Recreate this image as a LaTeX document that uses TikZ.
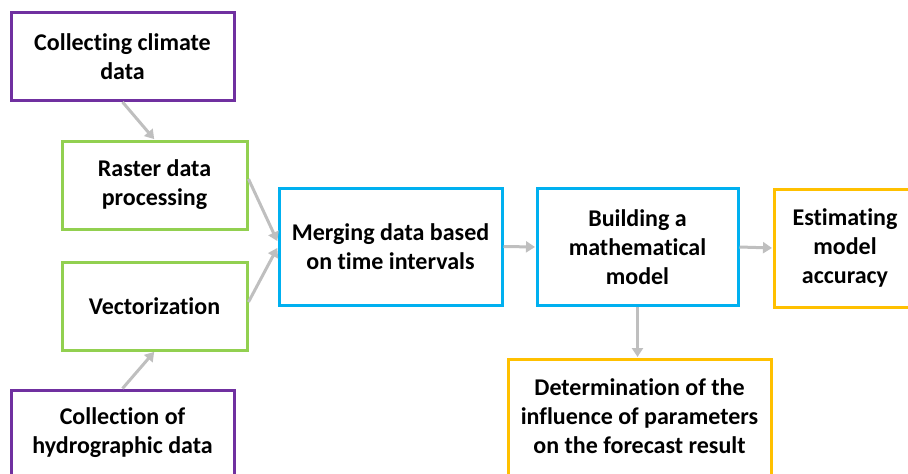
\documentclass[tikz,border=0pt]{standalone}
\usepackage{fontspec}
\setmainfont{Carlito}[RawFeature=-liga]
\usetikzlibrary{arrows.meta,calc}
\definecolor{boxpurple}{HTML}{7030A0}
\definecolor{boxgreen}{HTML}{92D050}
\definecolor{boxblue}{HTML}{00B0F0}
\definecolor{boxyellow}{HTML}{FFC000}
\definecolor{linkgray}{HTML}{BFBFBF}
\tikzset{
  steptext/.style={align=center, inner sep=0pt,
    font=\fontsize{24}{29}\selectfont\bfseries, text=black},
  stepbox/.style={steptext, draw, line width=3pt, rectangle},
  link/.style={draw=linkgray, line width=3pt,
    -{Triangle[length=9pt,width=11pt]}, shorten >=0.5pt}
}
\begin{document}
\begin{tikzpicture}[x=1pt,y=-1pt]
  \useasboundingbox (0,0) rectangle (908,474);
  \clip (0,0) rectangle (908,474);
  % input stage
  \node[stepbox, draw=boxpurple, minimum width=223pt, minimum height=88pt]
    (climate) at (122.5,56.5) {Collecting climate\\data};
  \node[stepbox, draw=boxgreen, minimum width=185pt, minimum height=88pt]
    (raster) at (154.5,185) {Raster data\\processing};
  \node[stepbox, draw=boxgreen, minimum width=185pt, minimum height=88pt]
    (vector) at (154.5,306) {Vectorization};
  \node[stepbox, draw=boxpurple, minimum width=223pt, minimum height=100pt]
    (hydro) at (122.5,440) {};
  \node[steptext] (hydrotext) at (122.5,433) {Collection of\\hydrographic data};
  % processing stage
  \node[stepbox, draw=boxblue, minimum width=223pt, minimum height=117pt]
    (merge) at (390.5,246.5) {Merging data based\\on time intervals};
  \node[stepbox, draw=boxblue, minimum width=201pt, minimum height=117pt]
    (model) at (637.5,247) {Building a\\mathematical\\model};
  % results
  \node[stepbox, draw=boxyellow, minimum width=142pt, minimum height=118pt]
    (accuracy) at (845,248) {Estimating\\model\\accuracy};
  \node[stepbox, draw=boxyellow, minimum width=263pt, minimum height=130pt]
    (influence) at (639.5,424) {};
  \node[steptext] (influencetext) at (639.5,416)
    {Determination of the\\influence of parameters\\on the forecast result};
  % connectors
  \draw[link] (climate.south) -- (raster.north);
  \draw[link] (hydro.north) -- (vector.south);
  \draw[link] ($(raster.east)+(0,-6)$) -- ($(merge.west)+(0,-5)$);
  \draw[link] ($(vector.east)+(0,-4)$) -- ($(merge.west)+(0,1)$);
  \draw[link] (merge.east) -- (model.west);
  \draw[link] (model.east) -- (accuracy.west);
  \draw[link] (model.south) -- (model.south |- influence.north);
\end{tikzpicture}
\end{document}
